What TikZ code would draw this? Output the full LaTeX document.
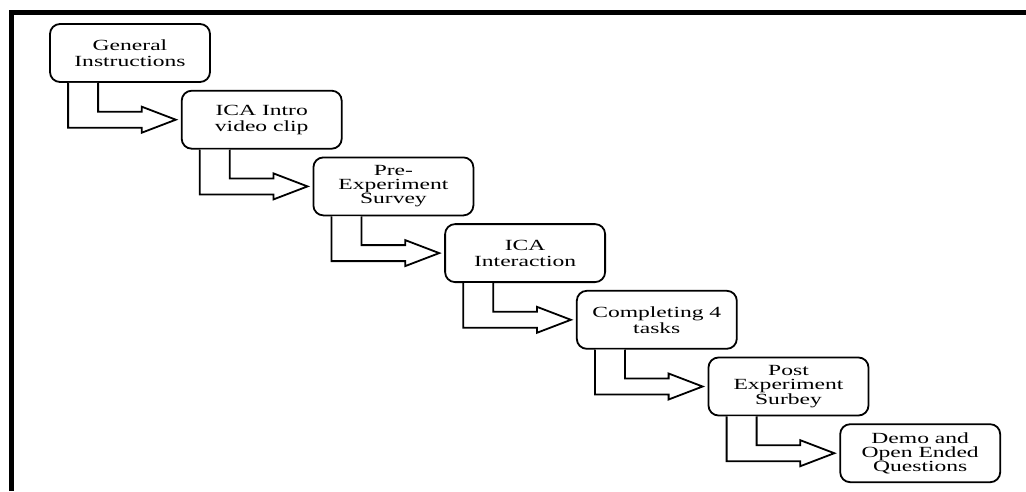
\documentclass[tikz,border=0pt]{standalone}
\usepackage{fontspec}
\setmainfont[FakeStretch=1.52]{Liberation Serif}
\usetikzlibrary{calc}

\tikzset{
  stepbox/.style={draw, line width=1.8pt, rounded corners=10pt, fill=white,
    minimum width=160pt, minimum height=58pt, inner sep=0pt, align=center,
    font=\fontsize{15.5}{16}\selectfont},
  threeline/.style={font=\fontsize{15.5}{14}\selectfont},
  blockarrow/.style={draw, line width=1.8pt, line join=miter, fill=white},
  frameline/.style={line width=5.5pt, line cap=butt}
}

% bent block arrow leaving the bottom of #1 and pointing at the left side of #2
\newcommand\bentarrow[2]{%
  \draw[blockarrow] let \p1=(#1.south west), \p2=(#2.west) in
    (\x1+19pt,\y1) -- (\x1+19pt,\y2-8pt) -- (\x2-39pt,\y2-8pt)
    -- (\x2-39pt,\y2-13pt) -- (\x2-5pt,\y2) -- (\x2-39pt,\y2+13pt)
    -- (\x2-39pt,\y2+8pt) -- (\x1+49pt,\y2+8pt) -- (\x1+49pt,\y1);}

\begin{document}
\begin{tikzpicture}[x=1pt,y=1pt]
  \useasboundingbox (0,0) rectangle (1026,-491);

  % page frame: top and left edges
  \draw[frameline] (11.5,-491) -- (11.5,-12.3) -- (1026,-12.3);

  \node[stepbox] (s1) at (130,-53)    {General\\Instructions};
  \node[stepbox] (s2) at (261.7,-119.7) {ICA Intro\\video clip};
  \node[stepbox, threeline] (s3) at (393.4,-186.4) {Pre-\\Experiment\\Survey};
  \node[stepbox] (s4) at (525.1,-253.1) {ICA\\Interaction};
  \node[stepbox] (s5) at (656.8,-319.8) {Completing 4\\tasks};
  \node[stepbox, threeline] (s6) at (788.5,-386.5) {Post\\Experiment\\Surbey};
  \node[stepbox, threeline] (s7) at (920.2,-453.2) {Demo and\\Open Ended\\Questions};

  \bentarrow{s1}{s2}
  \bentarrow{s2}{s3}
  \bentarrow{s3}{s4}
  \bentarrow{s4}{s5}
  \bentarrow{s5}{s6}
  \bentarrow{s6}{s7}
\end{tikzpicture}
\end{document}
